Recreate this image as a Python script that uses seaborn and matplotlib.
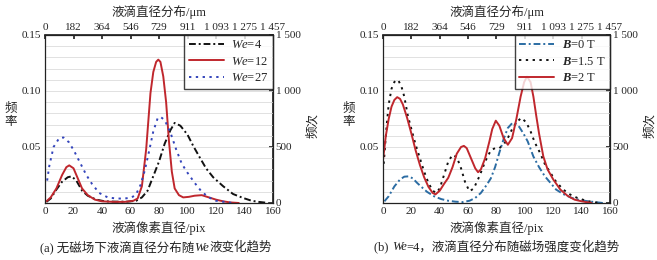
import numpy as np
import pandas as pd
import matplotlib
matplotlib.use('Agg')
import matplotlib.pyplot as plt
import seaborn as sns
from matplotlib.offsetbox import TextArea, HPacker, AnchoredOffsetbox

# ---------------- data ----------------
we4_x = [1, 4, 8, 12, 16, 18.7, 22, 26, 30, 36, 42, 50, 58, 64, 68, 72, 76, 80, 84, 88,
         91, 95, 100, 104, 108, 113, 118, 125, 132, 139, 145, 150, 157]
we4_y = [0.001, 0.004, 0.012, 0.019, 0.023, 0.0238, 0.020, 0.011, 0.0065, 0.003, 0.0015,
         0.0012, 0.0012, 0.002, 0.005, 0.011, 0.024, 0.037, 0.053, 0.065, 0.0715, 0.069,
         0.061, 0.051, 0.042, 0.031, 0.023, 0.015, 0.008, 0.0045, 0.002, 0.001, 0.0]

we12_x = [1, 4, 8, 12, 15, 17, 20, 23, 26, 30, 35, 40, 48, 56, 62, 65, 68, 71, 74, 76,
          78, 79.5, 81, 83, 85, 87, 89, 91, 94, 97, 101, 105, 110, 115, 120, 125, 130, 136]
we12_y = [0.0015, 0.005, 0.013, 0.025, 0.032, 0.0336, 0.031, 0.022, 0.013, 0.007, 0.003,
          0.0015, 0.001, 0.001, 0.002, 0.004, 0.015, 0.048, 0.098, 0.117, 0.126, 0.128,
          0.126, 0.113, 0.090, 0.055, 0.028, 0.013, 0.007, 0.005, 0.0055, 0.0065, 0.007,
          0.005, 0.003, 0.0015, 0.0005, 0.0]

we27_x = [1.5, 3, 6, 10, 13, 17, 21, 25, 29, 33, 38, 44, 50, 56, 61, 64, 67, 70, 73, 76,
          79, 81, 84, 88, 92, 96, 100, 105, 110, 115, 120, 126, 132]
we27_y = [0.020, 0.033, 0.050, 0.058, 0.0585, 0.054, 0.045, 0.035, 0.025, 0.017, 0.009,
          0.005, 0.004, 0.004, 0.005, 0.008, 0.016, 0.029, 0.046, 0.064, 0.0755, 0.077,
          0.074, 0.063, 0.048, 0.035, 0.027, 0.018, 0.010, 0.005, 0.002, 0.001, 0.0]

b0_x = [1, 4, 8, 12, 15, 18, 21, 24, 27, 31, 36, 41, 46, 51, 56, 61, 65, 69, 73, 76, 79,
        82, 85, 88, 91, 93, 96, 99, 102, 106, 110, 114, 118, 122, 127, 133, 139, 145, 150, 155]
b0_y = [0.0015, 0.006, 0.0148, 0.021, 0.0235, 0.0238, 0.022, 0.018, 0.0145, 0.010, 0.006,
        0.0035, 0.002, 0.0012, 0.0008, 0.002, 0.0045, 0.009, 0.016, 0.022, 0.032, 0.045,
        0.057, 0.067, 0.0712, 0.0714, 0.068, 0.062, 0.055, 0.0415, 0.032, 0.024, 0.018,
        0.012, 0.008, 0.0045, 0.0025, 0.0015, 0.0007, 0.0]

b15_x = [0.5, 2.5, 4, 6, 8, 9.5, 11, 13, 15, 17.5, 20, 23, 26, 29, 32, 35, 37.5, 40, 43,
         46, 49, 52, 55, 58, 61, 64, 68, 72, 76, 79, 82, 85, 88, 91, 94, 97.5, 101, 104,
         107, 111, 114, 118, 122, 127, 132, 137, 142, 147, 153]
b15_y = [0.035, 0.068, 0.088, 0.102, 0.108, 0.110, 0.109, 0.104, 0.095, 0.078, 0.066,
         0.052, 0.040, 0.028, 0.018, 0.011, 0.009, 0.013, 0.025, 0.037, 0.043, 0.041,
         0.031, 0.018, 0.0105, 0.013, 0.024, 0.037, 0.047, 0.049, 0.049, 0.052, 0.058,
         0.066, 0.072, 0.076, 0.072, 0.064, 0.054, 0.044, 0.035, 0.027, 0.019, 0.012,
         0.0075, 0.0045, 0.0025, 0.001, 0.0]

b2_x = [0, 2, 4, 6, 8, 10, 12, 14, 17, 20, 23, 26, 29, 32, 35, 37, 40, 43, 46, 49, 52,
        55, 57, 59, 62, 65, 67, 69, 72, 75, 77, 79.5, 82, 85, 88, 91, 94, 97, 99.5, 101.5,
        104, 106, 108, 110, 113, 116, 120, 125, 130, 135, 140, 147]
b2_y = [0.0387, 0.060, 0.075, 0.086, 0.092, 0.0945, 0.093, 0.088, 0.076, 0.062, 0.047,
        0.034, 0.023, 0.0145, 0.009, 0.0077, 0.011, 0.017, 0.0225, 0.032, 0.044, 0.050,
        0.051, 0.049, 0.040, 0.031, 0.0275, 0.030, 0.040, 0.055, 0.066, 0.0735, 0.069,
        0.058, 0.052, 0.058, 0.075, 0.095, 0.108, 0.1128, 0.108, 0.095, 0.078, 0.062,
        0.0416, 0.030, 0.021, 0.012, 0.0065, 0.003, 0.0015, 0.0]

top_ticks = [0, 20, 40, 60, 80, 100, 120, 140, 160]
top_labels = ['0', '182', '364', '546', '729', '911', '1 093', '1 275', '1 457']
right_ticks = [0, 500, 1000, 1500]
right_labels = ['0', '500', '1 000', '1 500']

# ---------------- style ----------------
sns.set_theme(style='white')
fam = ['Liberation Serif', 'Noto Sans CJK SC']
plt.rcParams['font.family'] = fam
plt.rcParams['mathtext.fontset'] = 'custom'
plt.rcParams['mathtext.rm'] = 'Liberation Serif'
plt.rcParams['mathtext.it'] = 'Liberation Serif:italic'
plt.rcParams['mathtext.bf'] = 'Liberation Serif:bold:italic'
plt.rcParams['axes.unicode_minus'] = False

RED = '#c0272d'
BLUE = '#3344bb'
STEEL = '#2b6ca3'
INK = '#222222'
tick_fs = 8
lab_fs = 9


def make_df(parts):
    frames = []
    for name, xs, ys in parts:
        frames.append(pd.DataFrame({'pix': xs, 'freq': ys, 'series': name}))
    return pd.concat(frames, ignore_index=True)


df_a = make_df([('We=4', we4_x, we4_y), ('We=12', we12_x, we12_y), ('We=27', we27_x, we27_y)])
df_b = make_df([('B=0', b0_x, b0_y), ('B=1.5', b15_x, b15_y), ('B=2', b2_x, b2_y)])


def settings_plot(ax, leg_labels):
    ax.set_xlim(0, 160)
    ax.set_ylim(0, 0.15)
    ax.set_xticks(top_ticks)
    ax.set_yticks([0.05, 0.10, 0.15])
    ax.set_yticklabels(['0.05', '0.10', '0.15'])
    ax.set_yticks(np.arange(0.01, 0.15, 0.01), minor=True)
    ax.grid(True, which='both', axis='y', color='#dcdcdc', lw=0.6)
    ax.set_axisbelow(True)
    ax.tick_params(axis='both', which='major', direction='in', length=3, width=0.8,
                   labelsize=tick_fs, pad=3, colors=INK, labelcolor=INK)
    ax.tick_params(axis='y', which='minor', direction='in', length=1.8, width=0.6, colors=INK)
    for s in ax.spines.values():
        s.set_visible(True)
        s.set_color(INK)
        s.set_linewidth(0.9)
    ax.set_xlabel('液滴像素直径/pix', fontsize=lab_fs, labelpad=3.5)
    ax.set_ylabel('频\n率', fontsize=lab_fs, rotation=0, ha='center', va='center',
                  linespacing=1.1)
    ax.yaxis.set_label_coords(-0.152, 0.52)

    top = ax.secondary_xaxis('top')
    top.set_xticks(top_ticks)
    top.set_xticklabels(top_labels)
    top.tick_params(direction='in', length=3, labelsize=tick_fs, pad=2)
    top.set_xlabel('液滴直径分布/μm', fontsize=lab_fs, labelpad=5.5)

    right = ax.secondary_yaxis('right', functions=(lambda y: y * 10000, lambda y: y / 10000))
    right.set_yticks(right_ticks)
    right.set_yticklabels(right_labels)
    right.set_yticks(np.arange(100, 1500, 100), minor=True)
    right.tick_params(direction='in', length=3, labelsize=tick_fs, pad=2)
    right.tick_params(which='minor', direction='in', length=1.8, width=0.6)

    # right-hand axis title, placed just beyond the tick labels
    ax.text(1.175, 0.46, '频次', transform=ax.transAxes, rotation=90, fontsize=lab_fs,
            ha='center', va='center', color=INK)

    handles, _ = ax.get_legend_handles_labels()
    leg = ax.legend(handles, leg_labels, loc='upper right', borderaxespad=0,
                    fancybox=False, frameon=True, fontsize=lab_fs, handlelength=2.8,
                    handletextpad=0.6, borderpad=0.35, labelspacing=0.35)
    leg.get_frame().set_edgecolor('#111111')
    leg.get_frame().set_linewidth(1.0)
    return ax


fig = plt.figure(figsize=(6.57, 2.6), dpi=100, facecolor='white')
ax1 = fig.add_axes([45 / 657, 57 / 260, 228 / 657, 168 / 260])
ax2 = fig.add_axes([383 / 657, 57 / 260, 227 / 657, 168 / 260])

sns.lineplot(data=df_a, x='pix', y='freq', hue='series', style='series', ax=ax1,
             hue_order=['We=4', 'We=12', 'We=27'],
             palette={'We=4': '#111111', 'We=12': RED, 'We=27': BLUE},
             dashes={'We=4': (3.5, 1.5, 1, 1.5), 'We=12': '', 'We=27': (1.2, 2.3)},
             estimator=None, sort=True, linewidth=1.4)
settings_plot(ax1, [r'$We$=4', r'$We$=12', r'$We$=27'])

sns.lineplot(data=df_b, x='pix', y='freq', hue='series', style='series', ax=ax2,
             hue_order=['B=0', 'B=1.5', 'B=2'],
             palette={'B=0': STEEL, 'B=1.5': '#111111', 'B=2': RED},
             dashes={'B=0': (3.5, 1.5, 1, 1.5), 'B=1.5': (1.2, 2.3), 'B=2': ''},
             estimator=None, sort=True, linewidth=1.4)
settings_plot(ax2, [r'$\mathbf{B}$=0 T', r'$\mathbf{B}$=1.5 T', r'$\mathbf{B}$=2 T'])


def caption(parts, xc, yc):
    boxes = []
    for txt, style in parts:
        boxes.append(TextArea(txt, textprops=dict(family=fam, fontsize=lab_fs, style=style,
                                                  color=INK)))
    hp = HPacker(children=boxes, align='baseline', pad=0, sep=0)
    ab = AnchoredOffsetbox(loc='center', child=hp, pad=0, borderpad=0, frameon=False,
                           bbox_to_anchor=(xc, yc), bbox_transform=fig.transFigure)
    fig.add_artist(ab)


caption([('(a) 无磁场下液滴直径分布随', 'normal'), ('We', 'italic'), ('液变化趋势', 'normal')],
        156 / 657, 1 - 247 / 260)
caption([('(b) ', 'normal'), ('We', 'italic'), ('=4，液滴直径分布随磁场强度变化趋势', 'normal')],
        497 / 657, 1 - 247 / 260)

plt.savefig('out.png', dpi=100, facecolor='white')
